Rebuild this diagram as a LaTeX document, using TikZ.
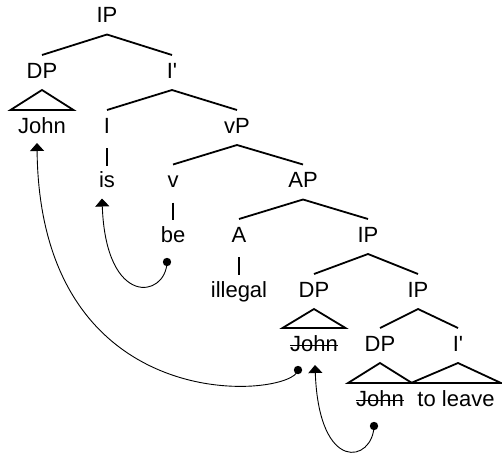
\documentclass[tikz,border=0pt]{standalone}
\usepackage{fontspec}
\newfontfamily\treefont{Liberation Sans}
\usetikzlibrary{calc,arrows.meta}
\begin{document}
\begin{tikzpicture}[x=1pt,y=-1pt,
  lbl/.style={anchor=base,inner sep=0pt,font=\treefont\fontsize{22}{25}\selectfont},
  branch/.style={line width=1.8pt},
  tri/.style={line width=1.8pt,line join=miter},
  strike/.style={line width=1pt},
  move/.style={line width=0.9pt,-{Triangle[width=14pt,length=8pt]}},
  trace/.style={fill=black}]
\useasboundingbox (0,0) rectangle (502,455);

% labels, placed on their baselines
\node[lbl] (ip)    at (107,22.5) {IP};
\node[lbl] (dp)    at (42,78)    {DP};
\node[lbl] (ibar)  at (172,78)   {I'};
\node[lbl] (john)  at (42,133)   {John};
\node[lbl] (i)     at (107,133)  {I};
\node[lbl] (vp)    at (237,133)  {vP};
\node[lbl] (is)    at (107,187.5){is};
\node[lbl] (v)     at (173,187.5){v};
\node[lbl] (ap)    at (303,187.5){AP};
\node[lbl] (be)    at (173,242)  {be};
\node[lbl] (a)     at (239,242)  {A};
\node[lbl] (ipb)   at (368,242)  {IP};
\node[lbl] (ill)   at (239,297)  {illegal};
\node[lbl] (dpb)   at (314,297)  {DP};
\node[lbl] (ipc)   at (418,297)  {IP};
\node[lbl] (johnb) at (314,351)  {John};
\node[lbl] (dpc)   at (380,351)  {DP};
\node[lbl] (ibarc) at (458,351)  {I'};
\node[lbl] (johnc) at (380,406)  {John};
\node[lbl] (leave) at (456,406)  {to leave};

% binary branches: from below the mother to above each daughter
\foreach \m/\l/\r in {ip/dp/ibar, ibar/i/vp, vp/v/ap, ap/a/ipb, ipb/dpb/ipc, ipc/dpc/ibarc}{
  \draw[branch] ($(\l.base)+(0,-23)$) -- ($(\m.base)+(0,12)$) -- ($(\r.base)+(0,-23)$);
}
% unary branches
\foreach \m/\d in {i/is, v/be, a/ill}{
  \draw[branch] ($(\m.base)+(0,15)$) -- ($(\d.base)+(0,-22)$);
}
% triangles
\foreach \m/\d/\w in {dp/john/31.5, dpb/johnb/31.5, dpc/johnc/32, ibarc/leave/45}{
  \draw[tri] ($(\m.base)+(0,12)$) -- ($(\d.base)+(\w,-23)$) -- ($(\d.base)+(-\w,-23)$) -- cycle;
}
% struck-out copies
\foreach \d in {johnb, johnc}{
  \draw[strike] ($(\d.base west)+(0,-5.5)$) -- ($(\d.base east)+(0,-5.5)$);
}

% movement arrows
\coordinate (tipa) at ($(john.base)+(-5,10)$);
\coordinate (tipb) at ($(is.base)+(-5,11)$);
\coordinate (tipc) at ($(johnb.base)+(1,14)$);
\coordinate (dota) at ($(johnb.base)+(-16,19)$);
\coordinate (dotb) at ($(be.base)+(-6,20)$);
\coordinate (dotc) at ($(johnc.base)+(-6,20)$);

\draw[move] (dota) .. controls ($(dota)+(-3,27)$) and ($(tipa)+(3,282)$) .. (tipa);
\draw[move] (dotb) .. controls ($(dotb)+(-1,36)$) and ($(tipb)+(4,110)$) .. (tipb);
\draw[move] (dotc) .. controls ($(dotc)+(-1,36)$) and ($(tipc)+(4,110)$) .. (tipc);
\foreach \p in {dota, dotb, dotc}{
  \fill[trace] (\p) circle (4.2);
}
\end{tikzpicture}
\end{document}
